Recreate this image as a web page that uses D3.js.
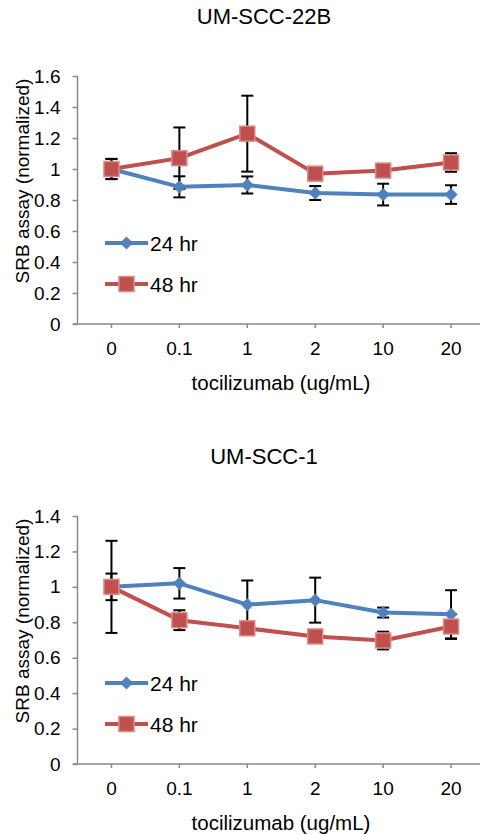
<!DOCTYPE html>
<html>
<head>
<meta charset="utf-8">
<title>SRB assay - tocilizumab</title>
<script src="https://cdn.jsdelivr.net/npm/d3@7"></script>
<style>
  body { margin:0; background:#fff; font-family:"Liberation Sans", Arial, sans-serif; }
  .axis path, .axis line { stroke:#898989; stroke-width:1.5px; }
  .axis text { font-size:19px; fill:#000; font-family:"Liberation Sans", Arial, sans-serif; }
</style>
</head>
<body>
<svg id=chart width=480 height=835></svg>
<script>
// doses on the x axis
var doses = ["0", "0.1", "1", "2", "10", "20"]
var seriesNames = ["24 hr", "48 hr"]

// UM-SCC-22B
var scc22b_24 = [1.00, 0.885, 0.897, 0.845, 0.835, 0.835]
var scc22b_24err = [0.065, 0.068, 0.055, 0.045, 0.07, 0.06]
var scc22b_48 = [1.00, 1.07, 1.228, 0.97, 0.99, 1.042]
var scc22b_48err = [0.065, 0.198, 0.245, 0.02, 0.02, 0.06]
var scc22b_ticks = [0, 0.2, 0.4, 0.6, 0.8, 1, 1.2, 1.4, 1.6]

// UM-SCC-1
var scc1_24 = [1.00, 1.02, 0.90, 0.925, 0.855, 0.845]
var scc1_24err = [0.075, 0.086, 0.136, 0.127, 0.028, 0.136]
var scc1_48 = [1.00, 0.812, 0.766, 0.72, 0.697, 0.776]
var scc1_48err = [0.26, 0.056, 0.03, 0.03, 0.05, 0.07]
var scc1_ticks = [0, 0.2, 0.4, 0.6, 0.8, 1, 1.2, 1.4]

var blue = "#4F81BD"
var red = "#C0504D"

var svg = d3.select("#chart")

function drawChart(top, title, yMax, yTicks, s24, e24, s48, e48)
{
  var g = svg.append("g").attr("transform", "translate(0," + top + ")")

  var x = d3.scaleBand().domain(doses).range([77.5, 485]).padding(0)
  var y = d3.scaleLinear().domain([0, yMax]).range([324, 76])

  // title
  g.append("text")
    .attr("x", 264).attr("y", 24)
    .attr("text-anchor", "middle")
    .style("font-size", "22px")
    .text(title)

  // y axis
  var yAxis = g.append("g").attr("class", "axis")
    .attr("transform", "translate(77.5,0)")
    .call(d3.axisLeft(y).tickValues(yTicks).tickSize(5).tickPadding(12)
      .tickFormat(function(d) { return d3.format("")(+d.toFixed(1)) }))
  yAxis.select(".domain").attr("d", "M0," + y(yMax) + "V" + y(0))

  // x axis
  var xAxis = g.append("g").attr("class", "axis")
    .attr("transform", "translate(0,324)")
    .call(d3.axisBottom(x).tickSize(4).tickPadding(14))
  xAxis.select(".domain").attr("d", "M73,0H480")

  // axis titles
  g.append("text")
    .attr("transform", "translate(29,181) rotate(-90)")
    .attr("text-anchor", "middle")
    .style("font-size", "19px")
    .text("SRB assay (normalized)")
  g.append("text")
    .attr("x", 281).attr("y", 390)
    .attr("text-anchor", "middle")
    .style("font-size", "20.5px")
    .text("tocilizumab (ug/mL)")

  var cx = function(d, i) { return x(doses[i]) + x.bandwidth() / 2 }
  var line = d3.line().x(cx).y(function(d) { return y(d) })

  function errorBars(vals, errs)
  {
    var eb = g.append("g").attr("stroke", "#000").attr("stroke-width", 2)
    vals.forEach(function(v, i) {
      var px = cx(v, i), hi = y(v + errs[i]), lo = y(v - errs[i])
      eb.append("line").attr("x1", px).attr("x2", px).attr("y1", hi).attr("y2", lo)
      eb.append("line").attr("x1", px - 6).attr("x2", px + 6).attr("y1", hi).attr("y2", hi)
      eb.append("line").attr("x1", px - 6).attr("x2", px + 6).attr("y1", lo).attr("y2", lo)
    })
  }

  errorBars(s24, e24)
  errorBars(s48, e48)

  // 24 hr
  g.append("path").datum(s24)
    .attr("fill", "none").attr("stroke", blue).attr("stroke-width", 4)
    .attr("stroke-linejoin", "round").attr("d", line)
  g.selectAll(".dia").data(s24).enter().append("path")
    .attr("fill", blue)
    .attr("d", d3.symbol(d3.symbolDiamond2, 110))
    .attr("transform", function(d, i) { return "translate(" + cx(d, i) + "," + y(d) + ")" })

  // 48 hr
  g.append("path").datum(s48)
    .attr("fill", "none").attr("stroke", red).attr("stroke-width", 4)
    .attr("stroke-linejoin", "round").attr("d", line)
  g.selectAll(".sq").data(s48).enter().append("rect")
    .attr("fill", red).attr("stroke", "#d98a88").attr("stroke-width", 1.5)
    .attr("x", function(d, i) { return cx(d, i) - 7.5 })
    .attr("y", function(d) { return y(d) - 7.5 })
    .attr("width", 15).attr("height", 15)

  // legend
  var lg = g.append("g")
  lg.append("line").attr("x1", 105).attr("x2", 148).attr("y1", 243).attr("y2", 243)
    .attr("stroke", blue).attr("stroke-width", 4)
  lg.append("path").attr("fill", blue)
    .attr("d", d3.symbol(d3.symbolDiamond2, 110))
    .attr("transform", "translate(126.5,243)")
  lg.append("line").attr("x1", 105).attr("x2", 148).attr("y1", 284).attr("y2", 284)
    .attr("stroke", red).attr("stroke-width", 4)
  lg.append("rect").attr("x", 119).attr("y", 276.5).attr("width", 15).attr("height", 15)
    .attr("fill", red).attr("stroke", "#d98a88").attr("stroke-width", 1.5)
  lg.selectAll("text").data(seriesNames).enter().append("text")
    .attr("x", 150).attr("y", function(d, i) { return [243, 284][i] + 7.5 })
    .style("font-size", "21px")
    .text(function(d) { return d })
}

drawChart(0, "UM-SCC-22B", 1.6, scc22b_ticks, scc22b_24, scc22b_24err, scc22b_48, scc22b_48err)
drawChart(440, "UM-SCC-1", 1.4, scc1_ticks, scc1_24, scc1_24err, scc1_48, scc1_48err)
</script>
</body>
</html>
